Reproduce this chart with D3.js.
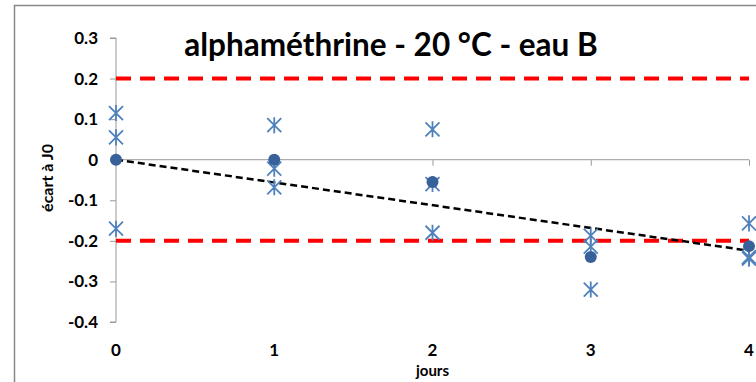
<!DOCTYPE html>
<html>
<head>
<meta charset="utf-8">
<script src="https://cdn.jsdelivr.net/npm/d3@7/dist/d3.min.js"></script>
<style>
  html, body { margin: 0; padding: 0; background: #fff; }
  svg { display: block; }
  text { font-family: Lato, "Open Sans", sans-serif; font-weight: bold; fill: #000; }
</style>
</head>
<body>
<svg id="chart" width="756" height="382"></svg>
<script>
// Days of measurement
const days = [0, 1, 2, 3, 4];
// Individual replicate deviations from J0 (three per day)
const replicates = [
  [0.115, 0.055, -0.170],
  [0.085, -0.022, -0.068],
  [0.075, -0.060, -0.180],
  [-0.187, -0.214, -0.320],
  [-0.157, -0.240, -0.244]
];
// Mean deviation per day
const means = [0, 0, -0.055, -0.240, -0.213];
// Acceptance limits
const limits = [0.2, -0.2];
// Axis ticks
const yTicks = [0.3, 0.2, 0.1, 0, -0.1, -0.2, -0.3, -0.4];
const xTicks = [0, 1, 2, 3, 4];

const title = "alphaméthrine - 20 °C - eau B";
const xTitle = "jours";
const yTitle = "écart à J0";

const svg = d3.select("#chart");

const x = d3.scaleLinear().domain([0, 4]).range([116, 749]);
const y = d3.scaleLinear().domain([-0.4, 0.3]).range([322, 38]);

// Chart area border
svg.append("rect")
  .attr("x", 14.5).attr("y", 5.5)
  .attr("width", 800).attr("height", 400)
  .attr("fill", "none").attr("stroke", "#888").attr("stroke-width", 1.5);

// Title
svg.append("text")
  .attr("x", 391).attr("y", 56)
  .attr("text-anchor", "middle")
  .attr("font-size", 31.5)
  .text(title);

// Vertical axis
const yAxis = d3.axisLeft(y).tickValues(yTicks).tickSize(6).tickPadding(12)
  .tickFormat(d => d === 0 ? "0" : d3.format(".1f")(d).replace("−", "-"));
const gy = svg.append("g").attr("transform", `translate(${x(0)},0)`).call(yAxis);
gy.select(".domain").attr("stroke", "#999").attr("d", `M-6,${y(0.3)}H0V${y(-0.4)}H-6`);
gy.selectAll(".tick line").attr("stroke", "#999");
gy.selectAll(".tick text").attr("font-size", 17).attr("font-family", "Lato, sans-serif")
  .attr("font-weight", "bold").attr("fill", "#000");

// Horizontal axis line at zero, with tick labels placed at the bottom
const xAxis = d3.axisBottom(x).tickValues(xTicks).tickSize(6).tickFormat("");
const gx = svg.append("g").attr("transform", `translate(0,${y(0)})`).call(xAxis);
gx.select(".domain").attr("stroke", "#999").attr("d", `M${x(0)},0H${x(4)}`);
gx.selectAll(".tick line").attr("stroke", "#999");

svg.append("g").selectAll("text").data(xTicks).join("text")
  .attr("x", d => x(d)).attr("y", 356)
  .attr("text-anchor", "middle").attr("font-size", 17)
  .text(d => d);

svg.append("text")
  .attr("x", x(2)).attr("y", 376)
  .attr("text-anchor", "middle").attr("font-size", 15)
  .text(xTitle);

svg.append("text")
  .attr("transform", `translate(53,${y(-0.045)}) rotate(-90)`)
  .attr("text-anchor", "middle").attr("font-size", 16)
  .text(yTitle);

// Acceptance limits
svg.append("g").selectAll("line").data(limits).join("line")
  .attr("x1", x(0)).attr("x2", x(4))
  .attr("y1", d => y(d)).attr("y2", d => y(d))
  .attr("stroke", "#ff0000").attr("stroke-width", 4)
  .attr("stroke-dasharray", "15,9");

// Linear trend of the means, forced through the origin
const slope = d3.sum(days, (d, i) => d * means[i]) / d3.sum(days, d => d * d);
svg.append("line")
  .attr("x1", x(0)).attr("y1", y(0))
  .attr("x2", x(4)).attr("y2", y(slope * 4))
  .attr("stroke", "#000").attr("stroke-width", 2.5)
  .attr("stroke-dasharray", "7,4");

// Replicate markers (asterisk: X plus vertical bar)
const pts = [];
replicates.forEach((vals, i) => vals.forEach(v => pts.push({ d: days[i], v })));
const s = 7;
const star = `M${-s},${-s}L${s},${s}M${-s},${s}L${s},${-s}M0,${-s * 1.15}L0,${s * 1.15}`;
svg.append("g").selectAll("path").data(pts).join("path")
  .attr("transform", p => `translate(${x(p.d)},${y(p.v)})`)
  .attr("d", star)
  .attr("fill", "none").attr("stroke", "#4F81BD").attr("stroke-width", 1.8);

// Daily means
svg.append("g").selectAll("circle").data(days).join("circle")
  .attr("cx", d => x(d)).attr("cy", (d, i) => y(means[i]))
  .attr("r", 6)
  .attr("fill", "#386199");
</script>
</body>
</html>
